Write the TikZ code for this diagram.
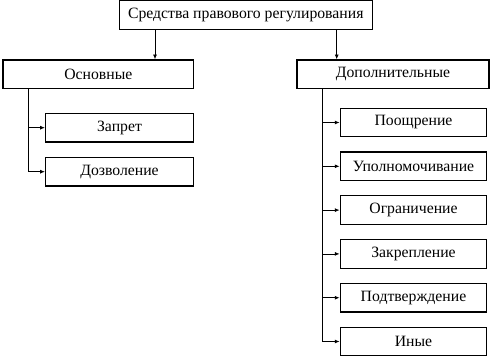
\documentclass[tikz,border=0pt]{standalone}
\usepackage{fontspec}
\setmainfont{Liberation Serif}
\usetikzlibrary{arrows.meta}
\tikzset{
  box/.style={draw, line width=0.9pt, fill=white, align=center,
              minimum height=21.5pt, inner sep=2pt, font=\fontsize{11.8}{14}\selectfont},
  subbox/.style={box, minimum width=111pt},
  arrow/.style={-{Latex[length=3.6pt,width=3pt]}, line width=0.6pt},
  line/.style={line width=0.6pt}
}

\begin{document}
\begin{tikzpicture}[x=0.75pt, y=-0.75pt]
  \useasboundingbox (0,0) rectangle (491,357);
  \node[box, minimum width=190pt] (top) at (245.8,15) {Средства правового регулирования};
  \node[box, minimum width=143pt] (osn) at (98.3,74.3) {Основные};
  \node[box, minimum width=144pt] (dop) at (393,74.3) {Дополнительные};
  \node[subbox] (zap) at (119.5,127.7) {Запрет};
  \node[subbox] (doz) at (119.5,171.7) {Дозволение};
  \foreach \i/\t in {0/Поощрение, 1/Уполномочивание, 2/Ограничение,
                     3/Закрепление, 4/Подтверждение, 5/Иные}
    \node[subbox, minimum width=110pt] (r\i) at (413.5,122.5+43.8*\i) {\t};
  % from the root
  \draw[arrow] (top.south -| 155,0) -- (155,0 |- osn.north);
  \draw[arrow] (top.south -| 336.7,0) -- (336.7,0 |- dop.north);
  % left branch
  \draw[arrow] (osn.south -| 28.5,0) |- (doz.west);
  \draw[arrow] (28.5,0 |- zap.west) -- (zap.west);
  % right branch
  \draw[arrow] (dop.south -| 322.7,0) |- (r5.west);
  \foreach \i in {0,...,4}
    \draw[arrow] (322.7,0 |- r\i.west) -- (r\i.west);
\end{tikzpicture}
\end{document}
